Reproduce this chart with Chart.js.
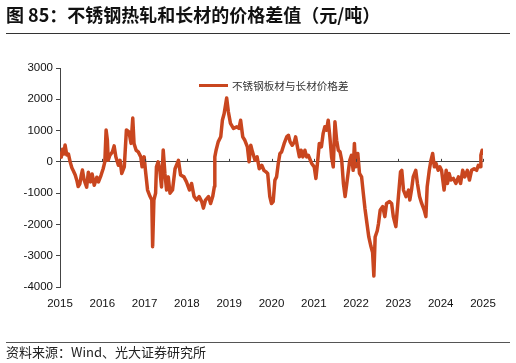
<!DOCTYPE html>
<html>
<head>
<meta charset="utf-8">
<script src="https://cdn.jsdelivr.net/npm/chart.js@4/dist/chart.umd.min.js"></script>
<style>
  html, body { margin: 0; padding: 0; background: #fff; }
  body { width: 516px; height: 363px; position: relative; overflow: hidden; font-family: "Noto Sans CJK SC", "Liberation Sans", sans-serif; }
  #title { position: absolute; left: 6px; top: 1px; font-size: 18px; font-weight: bold; color: #111; white-space: nowrap; }
  #titleRule { position: absolute; left: 6px; top: 33px; width: 504px; height: 1px; background: #333; }
  #footRule { position: absolute; left: 6px; top: 342px; width: 504px; height: 1px; background: #555; }
  #source { position: absolute; left: 6px; top: 342px; font-size: 13px; color: #222; white-space: nowrap; }
  #wrap { position: absolute; left: 0; top: 0; width: 516px; height: 363px; }
  #legend { position: absolute; left: 199px; top: 78px; display: flex; align-items: center; white-space: nowrap;
            font-size: 10.6px; color: #333; }
  #legend .swatch { display: inline-block; width: 29px; height: 3.5px; margin-right: 4px; }
</style>
</head>
<body>
<div id="wrap"><canvas id="chart" width="516" height="363"></canvas></div>
<div id="legend"></div>
<div id="title">图 85：不锈钢热轧和长材的价格差值（元/吨）</div>
<div id="titleRule"></div>
<div id="footRule"></div>
<div id="source">资料来源：Wind、光大证券研究所</div>
<script>
// 日期（小数年份）与价差（元/吨）
const seriesName = '不锈钢板材与长材价格差';
const dates = [
  2015.00, 2015.03, 2015.06, 2015.09, 2015.12, 2015.16, 2015.20, 2015.24, 2015.28, 2015.32,
  2015.36, 2015.40, 2015.43, 2015.47, 2015.50, 2015.53, 2015.57, 2015.63, 2015.67, 2015.72,
  2015.76, 2015.81, 2015.87, 2015.91, 2015.97, 2016.02, 2016.06, 2016.09, 2016.12, 2016.14,
  2016.18, 2016.24, 2016.28, 2016.32, 2016.38, 2016.42, 2016.46, 2016.52, 2016.57, 2016.63,
  2016.68, 2016.72, 2016.75, 2016.80, 2016.85, 2016.91, 2016.94, 2016.99, 2017.02, 2017.07,
  2017.13, 2017.17, 2017.19, 2017.22, 2017.26, 2017.28, 2017.32, 2017.36, 2017.40, 2017.44,
  2017.48, 2017.52, 2017.56, 2017.60, 2017.66, 2017.72, 2017.80, 2017.85, 2017.93, 2017.99,
  2018.06, 2018.11, 2018.17, 2018.23, 2018.29, 2018.35, 2018.39, 2018.44, 2018.51, 2018.56,
  2018.61, 2018.65, 2018.66, 2018.69, 2018.74, 2018.80, 2018.84, 2018.88, 2018.94, 2018.98,
  2019.03, 2019.10, 2019.18, 2019.23, 2019.27, 2019.32, 2019.37, 2019.43, 2019.47, 2019.51,
  2019.55, 2019.61, 2019.66, 2019.71, 2019.77, 2019.82, 2019.87, 2019.91, 2019.96, 2020.00,
  2020.04, 2020.08, 2020.12, 2020.16, 2020.20, 2020.24, 2020.30, 2020.36, 2020.40, 2020.44,
  2020.49, 2020.54, 2020.57, 2020.62, 2020.66, 2020.70, 2020.74, 2020.79, 2020.83, 2020.87,
  2020.95, 2021.01, 2021.05, 2021.09, 2021.13, 2021.18, 2021.22, 2021.26, 2021.30, 2021.34,
  2021.38, 2021.42, 2021.46, 2021.50, 2021.54, 2021.58, 2021.62, 2021.66, 2021.70, 2021.74,
  2021.78, 2021.81, 2021.85, 2021.89, 2021.93, 2021.96, 2021.99, 2022.04, 2022.08, 2022.13,
  2022.17, 2022.21, 2022.26, 2022.30, 2022.35, 2022.39, 2022.42, 2022.45, 2022.50, 2022.53,
  2022.57, 2022.63, 2022.68, 2022.72, 2022.79, 2022.84, 2022.88, 2022.94, 2023.00, 2023.05,
  2023.08, 2023.12, 2023.18, 2023.24, 2023.27, 2023.31, 2023.35, 2023.41, 2023.45, 2023.50,
  2023.55, 2023.61, 2023.65, 2023.68, 2023.73, 2023.77, 2023.81, 2023.85, 2023.89, 2023.94,
  2023.98, 2024.02, 2024.08, 2024.13, 2024.16, 2024.20, 2024.24, 2024.30, 2024.36, 2024.42,
  2024.47, 2024.52, 2024.57, 2024.63, 2024.68, 2024.73, 2024.79, 2024.85, 2024.89, 2024.93,
  2024.95, 2024.98, 2025.00
];
const spread = [
  330, 150, 400, 250, 540, 220, 250, 0, -190, -300,
  -420, -600, -790, -700, -450, -260, -580, -810, -330, -640,
  -390, -750, -490, -640, -430, -220, 0, 1020, 690, 50,
  210, 320, 510, 160, -110, 50, -370, -160, 1020, 960,
  590, 1400, 590, 370, 320, 160, -160, 160, -270, -900,
  -1110, -1220, -2710, -1220, -1000, -160, 0, -270, -800, 380,
  -370, -900, -480, -1000, -900, -220, 50, -420, -480, -640,
  -900, -690, -1110, -1220, -1110, -1270, -1480, -1220, -1110, -1330,
  -1110, -790, 160, 370, 640, 800, 1340, 1540, 2040, 1600,
  1230, 1070, 1120, 1070, 1330, 800, 690, 480, 0, 530,
  320, 50, 160, -220, -110, -270, -320, -370, -1110, -1330,
  -1270, -590, -480, -50, 270, 320, 590, 800, 850, 640,
  530, 640, 800, 430, 160, 370, 160, 370, 160, 210,
  -50, -160, -530, 0, 590, 480, 900, 1120, 1010, 1330,
  800, 160, -160, 1280, 690, 370, 320, 50, -690, -1110,
  -690, -370, 50, 210, -270, 590, -160, 270, -370, -480,
  -1000, -1500, -2000, -2400, -2700, -2900, -3650, -2400, -2200, -1970,
  -1540, -1430, -1750, -1330, -1270, -1330, -1750, -2070, -1110, -320,
  -270, -900, -1110, -900, -1220, -900, -480, -270, -690, -1110,
  -1330, -1540, -1750, -800, -270, 50, 270, -160, -50, -270,
  -160, -270, -900, -270, -690, -370, -580, -530, -690, -480,
  -690, -270, -480, -270, -580, -270, -220, -270, -110, -160,
  210, 370, 210
];
const yearTicks = [2015, 2016, 2017, 2018, 2019, 2020, 2021, 2022, 2023, 2024, 2025];
const valueTicks = [-4000, -3000, -2000, -1000, 0, 1000, 2000, 3000];

const lineColor = '#C9461F';

// 零轴上的年份小刻度（朝上）
const zeroTicks = {
  id: 'zeroTicks',
  afterDatasetsDraw(chart) {
    const { ctx, scales: { x, y } } = chart;
    const y0 = y.getPixelForValue(0);
    ctx.save();
    ctx.strokeStyle = '#444';
    ctx.lineWidth = 1;
    yearTicks.forEach(yr => {
      const px = Math.round(x.getPixelForValue(yr)) + 0.5;
      ctx.beginPath();
      ctx.moveTo(px, y0);
      ctx.lineTo(px, y0 - 3);
      ctx.stroke();
    });
    ctx.restore();
  }
};

const chart = new Chart(document.getElementById('chart'), {
  type: 'line',
  data: {
    datasets: [{
      label: seriesName,
      data: dates.map((d, i) => ({ x: d, y: spread[i] })),
      borderColor: lineColor,
      backgroundColor: lineColor,
      borderWidth: 3.5,
      pointRadius: 0,
      tension: 0,
      borderJoinStyle: 'round'
    }]
  },
  options: {
    responsive: false,
    animation: false,
    layout: { padding: { left: 0, right: 33, top: 68, bottom: 0 } },
    plugins: {
      legend: { display: false },
      tooltip: { enabled: false }
    },
    scales: {
      x: {
        type: 'linear',
        min: 2015,
        max: 2025,
        afterBuildTicks: s => { s.ticks = yearTicks.map(v => ({ value: v })); },
        afterFit: s => { s.height = 76; },
        border: { display: false },
        grid: { display: false },
        ticks: {
          callback: v => String(v),
          color: '#111',
          padding: 2,
          maxRotation: 0,
          font: { family: '"Liberation Sans", Arial, sans-serif', size: 11.5 }
        }
      },
      y: {
        min: -4000,
        max: 3000,
        afterBuildTicks: s => { s.ticks = valueTicks.map(v => ({ value: v })); },
        afterFit: s => { s.width = 60; },
        border: { display: true, color: '#444', width: 1 },
        grid: {
          drawOnChartArea: true,
          color: c => (c.tick && c.tick.value === 0 ? '#444' : 'rgba(0,0,0,0)'),
          tickColor: '#444',
          tickLength: 4,
          lineWidth: 1
        },
        ticks: {
          callback: v => String(v),
          color: '#111',
          padding: 3,
          font: { family: '"Liberation Sans", Arial, sans-serif', size: 11.5 }
        }
      }
    }
  },
  plugins: [zeroTicks]
});

// HTML 图例，放在绘图区内上方
const legendEl = document.getElementById('legend');
chart.data.datasets.forEach(ds => {
  const sw = document.createElement('span');
  sw.className = 'swatch';
  sw.style.background = ds.borderColor;
  const tx = document.createElement('span');
  tx.textContent = ds.label;
  legendEl.appendChild(sw);
  legendEl.appendChild(tx);
});
</script>
</body>
</html>
